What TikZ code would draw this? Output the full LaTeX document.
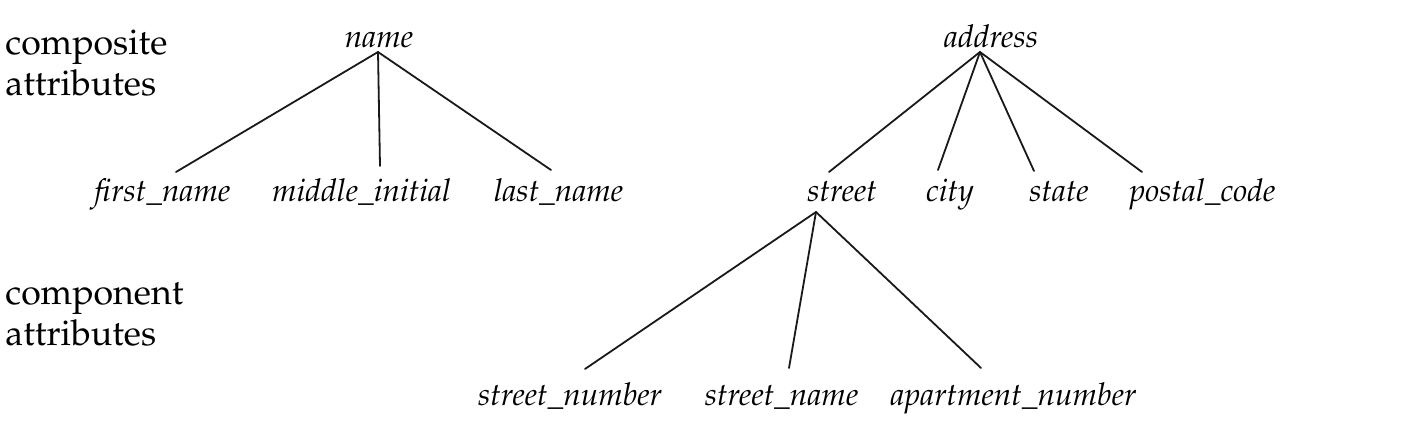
\documentclass[tikz,border=0pt]{standalone}
\usepackage[T1]{fontenc}
\usepackage{mathpazo}
\usetikzlibrary{calc}
\begin{document}
\begin{tikzpicture}[x=0.5pt,y=-0.5pt,
  attr/.style={inner sep=0pt,anchor=base,font=\fontsize{15.75}{18}\selectfont\itshape},
  side/.style={inner sep=0pt,anchor=base west,font=\fontsize{17.85}{20}\selectfont},
  edge/.style={line width=0.9pt,line cap=round,black!90}]
\useasboundingbox (0,0) rectangle (1404,448);
% side labels
\node[side] (comp1) at (5,55) {composite};
\node[side] (comp2) at ($(comp1.base west)+(0,41)$) {attributes};
\node[side] (cmpn1) at (5,305) {component};
\node[side] (cmpn2) at ($(cmpn1.base west)+(0,41)$) {attributes};
% name tree
\node[attr] (name) at (379,48) {name};
\node[attr] (first) at (162.5,202) {first\_name};
\node[attr] (middle) at (361.5,202) {middle\_initial};
\node[attr] (last) at (558.5,202) {last\_name};
% address tree
\node[attr] (address) at (991,48) {address};
\node[attr] (street) at (842,202) {street};
\node[attr] (city) at (950,202) {city};
\node[attr] (state) at (1059,202) {state};
\node[attr] (postal) at (1202.5,202) {postal\_code};
\node[attr] (snum) at (570,406) {street\_number};
\node[attr] (sname) at (781.5,406) {street\_name};
\node[attr] (apt) at (1013.5,406) {apartment\_number};
% connectors
\coordinate (nameapex) at ($(name.base)+(-1,4)$);
\draw[edge] (nameapex) -- ($(first.base)+(13.5,-30)$);
\draw[edge] (nameapex) -- ($(middle.base)+(18.5,-36)$);
\draw[edge] (nameapex) -- ($(last.base)+(-7.5,-32)$);
\coordinate (addrapex) at ($(address.base)+(-11,4)$);
\draw[edge] (addrapex) -- ($(street.base)+(-13,-30)$);
\draw[edge] (addrapex) -- ($(city.base)+(-12,-32)$);
\draw[edge] (addrapex) -- ($(state.base)+(-25,-31)$);
\draw[edge] (addrapex) -- ($(postal.base)+(-60.5,-30)$);
\coordinate (streetapex) at ($(street.base)+(-26,10)$);
\draw[edge] (streetapex) -- ($(snum.base)+(15,-37)$);
\draw[edge] (streetapex) -- ($(sname.base)+(7.5,-38)$);
\draw[edge] (streetapex) -- ($(apt.base)+(-32.5,-38)$);
\end{tikzpicture}
\end{document}
